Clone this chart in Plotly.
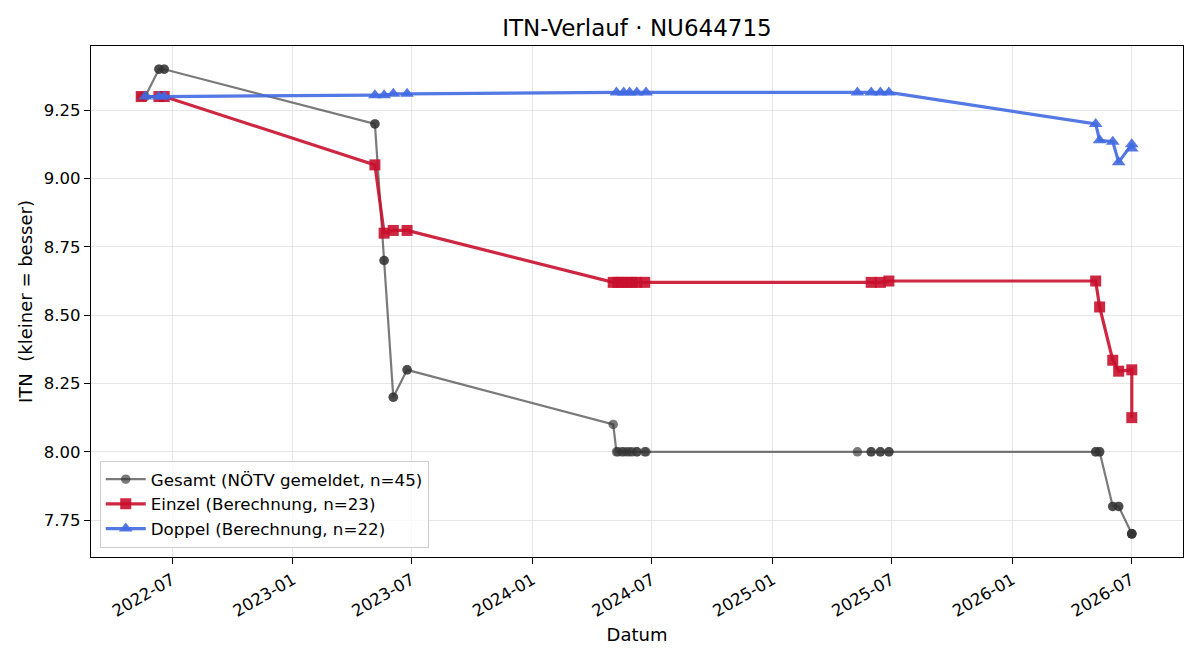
import plotly.graph_objects as go

# ---- data ----
einzel_dates = ["2022-05-15", "2022-06-11", "2022-06-19",
                "2023-05-06", "2023-05-20", "2023-06-03", "2023-06-24",
                "2024-05-03", "2024-05-10", "2024-05-16", "2024-05-24", "2024-06-01", "2024-06-08", "2024-06-20",
                "2025-05-31", "2025-06-14", "2025-06-27",
                "2026-05-08", "2026-05-14", "2026-06-03", "2026-06-12", "2026-07-02", "2026-07-02"]
einzel_itn = [9.30, 9.30, 9.30,
              9.05, 8.80, 8.81, 8.81,
              8.62, 8.62, 8.62, 8.62, 8.62, 8.62, 8.62,
              8.62, 8.62, 8.625,
              8.625, 8.53, 8.335, 8.295, 8.30, 8.125]

doppel_dates = ["2022-05-21", "2022-06-11", "2022-06-19",
                "2023-05-06", "2023-05-20", "2023-06-03", "2023-06-24",
                "2024-05-08", "2024-05-19", "2024-05-28", "2024-06-08", "2024-06-22",
                "2025-05-10", "2025-05-31", "2025-06-14", "2025-06-27",
                "2026-05-08", "2026-05-14", "2026-06-03", "2026-06-12", "2026-07-02", "2026-07-02"]
doppel_itn = [9.30, 9.30, 9.30,
              9.305, 9.305, 9.31, 9.31,
              9.315, 9.315, 9.315, 9.315, 9.315,
              9.315, 9.315, 9.315, 9.315,
              9.20, 9.14, 9.135, 9.06, 9.125, 9.11]

gesamt_dates = ["2022-05-15", "2022-05-21", "2022-06-11", "2022-06-11", "2022-06-19", "2022-06-19",
                "2023-05-06", "2023-05-06", "2023-05-20", "2023-05-20", "2023-06-03", "2023-06-03",
                "2023-06-24", "2023-06-24",
                "2024-05-03", "2024-05-08", "2024-05-10", "2024-05-16", "2024-05-19", "2024-05-24",
                "2024-05-28", "2024-06-01", "2024-06-08", "2024-06-08", "2024-06-20", "2024-06-22",
                "2025-05-10", "2025-05-31", "2025-05-31", "2025-06-14", "2025-06-14", "2025-06-27", "2025-06-27",
                "2026-05-08", "2026-05-08", "2026-05-14", "2026-05-14", "2026-06-03", "2026-06-03",
                "2026-06-12", "2026-06-12", "2026-07-02", "2026-07-02", "2026-07-02", "2026-07-02"]
gesamt_itn = [9.30, 9.30, 9.40, 9.40, 9.40, 9.40,
              9.20, 9.20, 8.70, 8.70, 8.20, 8.20,
              8.30, 8.30,
              8.10, 8.00, 8.00, 8.00, 8.00, 8.00,
              8.00, 8.00, 8.00, 8.00, 8.00, 8.00,
              8.00, 8.00, 8.00, 8.00, 8.00, 8.00, 8.00,
              8.00, 8.00, 8.00, 8.00, 7.80, 7.80,
              7.80, 7.80, 7.70, 7.70, 7.70, 7.70]

title = "ITN-Verlauf · NU644715"
font = "DejaVu Sans"

fig = go.Figure()
fig.add_trace(go.Scatter(
    x=gesamt_dates, y=gesamt_itn, mode="lines+markers",
    name=f"Gesamt (NÖTV gemeldet, n={len(gesamt_itn)})",
    line=dict(color="rgba(51,51,51,0.65)", width=2.2),
    marker=dict(symbol="circle", size=9.5, color="rgba(51,51,51,0.65)", line=dict(width=0)),
))
fig.add_trace(go.Scatter(
    x=einzel_dates, y=einzel_itn, mode="lines+markers",
    name=f"Einzel (Berechnung, n={len(einzel_itn)})",
    line=dict(color="rgba(200,16,46,0.9)", width=3.2),
    marker=dict(symbol="square", size=11, color="rgba(200,16,46,0.9)", line=dict(width=0)),
))
fig.add_trace(go.Scatter(
    x=doppel_dates, y=doppel_itn, mode="lines+markers",
    name=f"Doppel (Berechnung, n={len(doppel_itn)})",
    line=dict(color="rgba(65,105,225,0.9)", width=3.2),
    marker=dict(symbol="triangle-up", size=12, color="rgba(65,105,225,0.9)", line=dict(width=0)),
))

axis_common = dict(
    showline=True, linecolor="black", linewidth=1.3, mirror=True,
    ticks="outside", ticklen=6, tickwidth=1.3, tickcolor="black",
    showgrid=True, gridcolor="#e6e6e6", gridwidth=1, zeroline=False,
    tickfont=dict(family=font, size=16.5, color="black"),
)

fig.update_layout(
    width=1200, height=660,
    margin=dict(l=91, r=17, t=46, b=103),
    paper_bgcolor="white", plot_bgcolor="white",
    font=dict(family=font, color="black"),
    title=dict(text=title, x=0.5, xref="paper", y=1 - 28 / 660, yref="container",
               yanchor="middle", xanchor="center",
               font=dict(family=font, size=23, color="black")),
    xaxis=dict(**axis_common, type="date",
               range=["2022-02-27 12:00", "2026-09-18"],
               dtick="M6", tick0="2022-01-01", tickformat="%Y-%m", tickangle=-30,
               title=dict(text="Datum", font=dict(family=font, size=18, color="black"), standoff=8)),
    yaxis=dict(**axis_common, range=[7.615, 9.485], dtick=0.25, tick0=7.75, tickformat=".2f",
               title=dict(text="ITN  (kleiner = besser)", font=dict(family=font, size=18, color="black"),
                          standoff=6)),
    legend=dict(x=0.008, y=0.018, xanchor="left", yanchor="bottom",
                bgcolor="rgba(255,255,255,0.8)", bordercolor="#cccccc", borderwidth=1,
                font=dict(family=font, size=16.7, color="black"),
                itemwidth=40, tracegroupgap=0),
    showlegend=True,
)

fig.write_html("out.html")
